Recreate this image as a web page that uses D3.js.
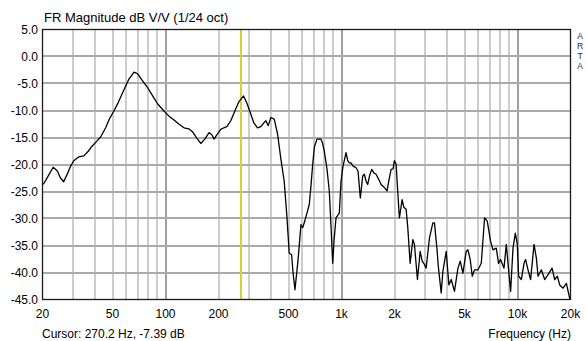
<!DOCTYPE html>
<html>
<head>
<meta charset="utf-8">
<script src="https://cdn.jsdelivr.net/npm/d3@7"></script>
<style>
  html, body { margin: 0; padding: 0; background: #ffffff; }
  svg { display: block; }
  text { font-family: "Liberation Sans", Arial, sans-serif; }
</style>
</head>
<body>
<svg id="chart" width="587" height="341"></svg>
<script>
// ---- data ----
const freqHz = [20.2, 21.4, 23.0, 24.3, 25.3, 26.4, 27.8, 28.9, 30.1, 32.1, 34.4, 36.5, 38.0, 40.1, 42.8, 45.7, 48.1, 50.9, 54.1, 57.8,
  61.7, 66.2, 69.5, 73.2, 78.9, 84.5, 90.3, 98.0, 104.3, 111.3, 118.9, 127.4, 135.5, 142.8, 150.5, 158.6, 167.1, 176.9, 183.2, 188.8,
  195.6, 206.1, 214.4, 223, 235, 247.6, 261, 277.6, 289.8, 305.4, 317.6, 333.4, 348.2, 362, 371.8, 383.2, 397, 414.6, 433.4, 452.4,
  472.4, 489.4, 504.4, 520.6, 529.6, 543.8, 565.4, 588.2, 601.4, 614.2, 636.2, 655.8, 670.4, 685.6, 701.8, 725.4, 764.2, 779.4, 798, 826.8,
  852.2, 871.4, 891, 906.4, 930.4, 971.6, 993.6, 1020, 1061, 1085, 1108, 1132, 1163, 1209, 1241, 1279, 1320, 1348, 1379, 1409,
  1443, 1485, 1531, 1572, 1624, 1678, 1745, 1815, 1864, 1913, 1963, 1997, 2042, 2088, 2132, 2210, 2258, 2328, 2380, 2454,
  2542, 2596, 2700, 2798, 2872, 2960, 3026, 3160, 3304, 3374, 3482, 3556, 3684, 3766, 3934, 4074, 4200, 4384, 4586, 4726,
  4894, 5110, 5226, 5386, 5530, 5698, 5960, 6224, 6498, 6730, 7028, 7252, 7574, 7804, 8012, 8378, 8634, 8830, 9136, 9426,
  9716, 9974, 10146, 10510, 10888, 11118, 11474, 11872, 12412, 12792, 13080, 13660, 14264, 14912, 15716, 16260, 16844, 17360, 18152, 18954,
  19790, 20000];
const magDb = [-23.7, -22.3, -20.5, -21.2, -22.5, -23.2, -21.6, -20.3, -19.3, -18.6, -18.4, -17.5, -16.7, -15.9, -14.9, -13.2, -11.5, -10.1, -8.4, -6.3,
  -4.3, -2.9, -3.2, -4.3, -5.7, -7.3, -8.8, -10.1, -11.0, -11.7, -12.5, -13.2, -13.4, -14.0, -15.1, -16.1, -15.3, -14.1, -14.5, -15.3,
  -14.5, -13.5, -13.2, -13.0, -11.9, -10.1, -8.4, -7.3, -8.6, -10.7, -12.3, -13.2, -13.0, -12.3, -11.9, -12.8, -11.3, -11.6, -14.4, -19.0,
  -23.1, -29.6, -36.4, -36.7, -39.8, -43.2, -37.9, -31.1, -31.7, -30.8, -29.0, -27.4, -24.0, -20.0, -16.7, -15.3, -15.3, -16.0, -17.5, -20.8,
  -24.9, -31.4, -38.3, -34.2, -29.9, -29.0, -23.1, -20.3, -17.8, -19.3, -19.7, -19.7, -20.3, -20.6, -21.2, -26.2, -22.1, -21.8, -23.1, -23.7,
  -22.1, -20.9, -21.6, -21.8, -22.7, -23.7, -24.2, -24.9, -22.7, -20.9, -20.8, -19.3, -19.9, -25.2, -29.9, -26.5, -27.9, -28.3, -31.7, -38.3,
  -33.9, -34.8, -41.3, -36.1, -37.9, -38.5, -39.2, -33.6, -30.8, -30.8, -35.5, -39.2, -43.8, -39.8, -36.1, -42.3, -41.3, -43.5, -39.2, -37.9,
  -40.1, -36.1, -35.8, -37.6, -40.7, -39.5, -39.5, -38.3, -29.9, -30.5, -34.2, -35.8, -35.5, -38.3, -37.6, -39.2, -34.8, -38.3, -43.5, -35.5,
  -32.7, -34.8, -40.7, -41.3, -38.3, -37.6, -39.5, -41.3, -34.8, -37.3, -40.7, -39.5, -41.3, -40.4, -39.2, -41.3, -40.7, -42.3, -42.9, -42.0,
  -44.8, -45.0];
const yTicks = [5, 0, -5, -10, -15, -20, -25, -30, -35, -40, -45];
const yTickLabels = ["5.0", "0.0", "-5.0", "-10.0", "-15.0", "-20.0", "-25.0", "-30.0", "-35.0", "-40.0", "-45.0"];
const xLabelFreqs = [20, 50, 100, 200, 500, 1000, 2000, 5000, 10000, 20000];
const xLabelTexts = ["20", "50", "100", "200", "500", "1k", "2k", "5k", "10k", "20k"];
const xGridFreqs = [30, 40, 50, 60, 70, 80, 90, 100, 200, 300, 400, 500, 600, 700, 800, 900, 1000,
  2000, 3000, 4000, 5000, 6000, 7000, 8000, 9000, 10000];
const majorFreqs = [100, 1000, 10000];
const cursorHz = 270.2;
const titleText = "FR Magnitude dB V/V (1/24 oct)";
const cursorText = "Cursor: 270.2 Hz, -7.39 dB";
const xAxisTitle = "Frequency (Hz)";
const brandLetters = ["A", "R", "T", "A"];

// ---- layout ----
const L = 42.5, R = 570.5, T = 29.5, B = 299.5;
const svg = d3.select("#chart");
const x = d3.scaleLog().domain([20, 20000]).range([L, R]);
const y = d3.scaleLinear().domain([-45, 5]).range([B, T]);

// grid: vertical
svg.append("g").selectAll("line").data(xGridFreqs).join("line")
  .attr("x1", d => Math.round(x(d))).attr("x2", d => Math.round(x(d)))
  .attr("y1", T).attr("y2", B)
  .attr("stroke", d => majorFreqs.includes(d) ? "#a0a0a0" : "#cdcdcd")
  .attr("stroke-width", 2);

// grid: horizontal
svg.append("g").selectAll("line").data(yTicks.slice(1, -1)).join("line")
  .attr("x1", L).attr("x2", R)
  .attr("y1", d => Math.round(y(d))).attr("y2", d => Math.round(y(d)))
  .attr("stroke", "#aaaaaa").attr("stroke-width", 2);

// cursor line
svg.append("line")
  .attr("x1", Math.round(x(cursorHz))).attr("x2", Math.round(x(cursorHz)))
  .attr("y1", T).attr("y2", B)
  .attr("stroke", "#d6d03a").attr("stroke-width", 2);

// curve
const line = d3.line().x((d, i) => x(freqHz[i])).y(d => y(Math.max(-45, d)));
svg.append("path").datum(magDb)
  .attr("d", line)
  .attr("fill", "none").attr("stroke", "#000").attr("stroke-width", 1.3)
  .attr("stroke-linejoin", "round");

// frame
svg.append("rect").attr("x", L).attr("y", T).attr("width", R - L).attr("height", B - T)
  .attr("fill", "none").attr("stroke", "#1a1a1a").attr("stroke-width", 1.3);

// y tick labels
svg.append("g").selectAll("text").data(yTicks).join("text")
  .attr("x", 38).attr("y", d => y(d) + 4.5)
  .attr("text-anchor", "end").attr("font-size", 12).attr("fill", "#000")
  .text((d, i) => yTickLabels[i]);

// x tick labels
svg.append("g").selectAll("text").data(xLabelFreqs).join("text")
  .attr("x", d => x(d)).attr("y", 318)
  .attr("text-anchor", "middle").attr("font-size", 12).attr("fill", "#000")
  .text((d, i) => xLabelTexts[i]);

// title
svg.append("text").attr("x", 44).attr("y", 21.5).attr("font-size", 13).attr("fill", "#000").text(titleText);
// cursor readout
svg.append("text").attr("x", 42).attr("y", 338).attr("font-size", 12).attr("fill", "#000").text(cursorText);
// x axis title
svg.append("text").attr("x", 571).attr("y", 338).attr("text-anchor", "end").attr("font-size", 12).attr("fill", "#000").text(xAxisTitle);
// brand letters
svg.append("g").selectAll("text").data(brandLetters).join("text")
  .attr("x", 580).attr("y", (d, i) => 38.5 + i * 10)
  .attr("text-anchor", "middle").attr("font-size", 8.6).attr("fill", "#1e2a55")
  .text(d => d);
</script>
</body>
</html>
